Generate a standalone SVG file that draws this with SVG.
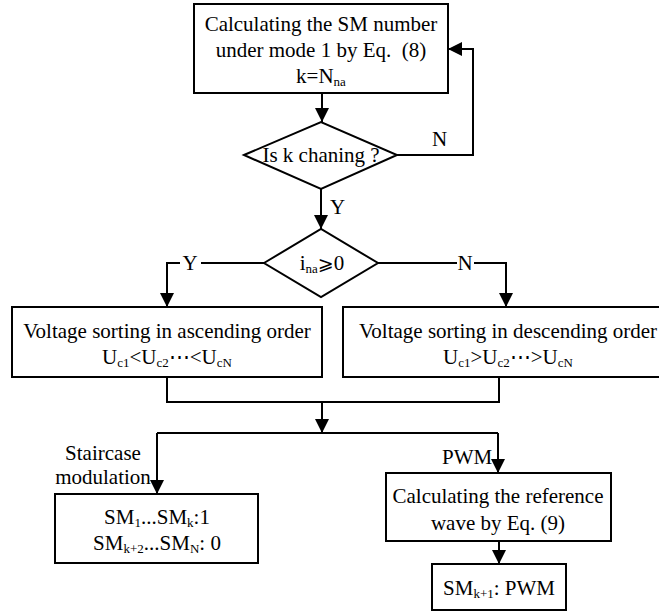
<svg xmlns="http://www.w3.org/2000/svg" width="659" height="613" viewBox="0 0 659 613" font-family="'Liberation Serif', 'Times New Roman', Tinos, 'DejaVu Serif', serif">
<style>
.box{fill:#fff;stroke:#000;stroke-width:2}
.ln{fill:none;stroke:#000;stroke-width:2}
.arr{marker-end:url(#ah)}
text{font-family:'Liberation Serif','Times New Roman',Tinos,'DejaVu Serif',serif;font-size:21px;fill:#000}
.c{text-anchor:middle}
.sub{font-size:13px}
.ge{font-family:'DejaVu Serif','DejaVu Sans',serif;font-size:19px}
</style>
<defs>
<marker id="ah" markerUnits="userSpaceOnUse" markerWidth="14" markerHeight="14" refX="14" refY="7" orient="auto">
<path d="M0,0 L14,7 L0,14 z" fill="#000"/>
</marker>
</defs>
<g id="connectors">
<path class="ln arr" d="M322,93 V122"/>
<path class="ln arr" d="M397,155 H473 V49 H448"/>
<path class="ln arr" d="M321,189 V229"/>
<path class="ln" d="M264,263 H201"/>
<path class="ln arr" d="M180,263 H167 V307"/>
<path class="ln" d="M378,263 H457"/>
<path class="ln arr" d="M474,263 H506 V307"/>
<path class="ln" d="M167,377 V402 H499 V377"/>
<path class="ln arr" d="M322,402 V433"/>
<path class="ln arr" d="M157,433 V494"/>
<path class="ln" d="M157,433 H498"/>
<path class="ln arr" d="M498,433 V473"/>
<path class="ln arr" d="M499,541 V564"/>
</g>
<g id="labels">
<text x="432" y="146">N</text>
<text x="330" y="214">Y</text>
<text x="190" y="270" class="c">Y</text>
<text x="465" y="270" class="c">N</text>
<text x="103" y="460" class="c">Staircase</text>
<text x="103" y="484" class="c">modulation</text>
<text x="442" y="464">PWM</text>
</g>
<g id="n1">
<rect class="box" x="194" y="4" width="254" height="89"/>
<text x="321" y="31" class="c">Calculating the SM number</text>
<text x="321" y="57" class="c">under mode 1 by Eq.&#160; (8)</text>
<text x="321" y="83" class="c">k=N<tspan class="sub" dy="3">na</tspan></text>
</g>
<g id="n2">
<path class="box" d="M244,155 L321,122 L397,155 L321,189 z"/>
<text x="321" y="162" class="c">Is k chaning ?</text>
</g>
<g id="n3">
<path class="box" d="M264,263 L321,229 L378,263 L321,297 z"/>
<text x="322" y="270" class="c">i<tspan class="sub" dy="3">na</tspan><tspan class="ge" dy="-3">⩾</tspan>0</text>
</g>
<g id="n4">
<rect class="box" x="12" y="307" width="310" height="70"/>
<text x="167" y="338" class="c">Voltage sorting in ascending order</text>
<text x="167" y="364" class="c">U<tspan class="sub" dy="3">c1</tspan><tspan dy="-3">&lt;U</tspan><tspan class="sub" dy="3">c2</tspan><tspan dy="-3">⋯&lt;U</tspan><tspan class="sub" dy="3">cN</tspan></text>
</g>
<g id="n5">
<rect class="box" x="343" y="307" width="330" height="70"/>
<text x="508" y="338" class="c">Voltage sorting in descending order</text>
<text x="508" y="364" class="c">U<tspan class="sub" dy="3">c1</tspan><tspan dy="-3">&gt;U</tspan><tspan class="sub" dy="3">c2</tspan><tspan dy="-3">⋯&gt;U</tspan><tspan class="sub" dy="3">cN</tspan></text>
</g>
<g id="n6">
<rect class="box" x="55" y="494" width="203" height="69"/>
<text x="157" y="524" class="c">SM<tspan class="sub" dy="3">1</tspan><tspan dy="-3">...SM</tspan><tspan class="sub" dy="3">k</tspan><tspan dy="-3">:1</tspan></text>
<text x="157" y="550" class="c">SM<tspan class="sub" dy="3">k+2</tspan><tspan dy="-3">...SM</tspan><tspan class="sub" dy="3">N</tspan><tspan dy="-3">: 0</tspan></text>
</g>
<g id="n7">
<rect class="box" x="386" y="473" width="225" height="68"/>
<text x="498" y="503" class="c">Calculating the reference</text>
<text x="498" y="530" class="c">wave by Eq. (9)</text>
</g>
<g id="n8">
<rect class="box" x="432" y="564" width="134" height="46"/>
<text x="499" y="595" class="c">SM<tspan class="sub" dy="3">k+1</tspan><tspan dy="-3">: PWM</tspan></text>
</g>
</svg>
